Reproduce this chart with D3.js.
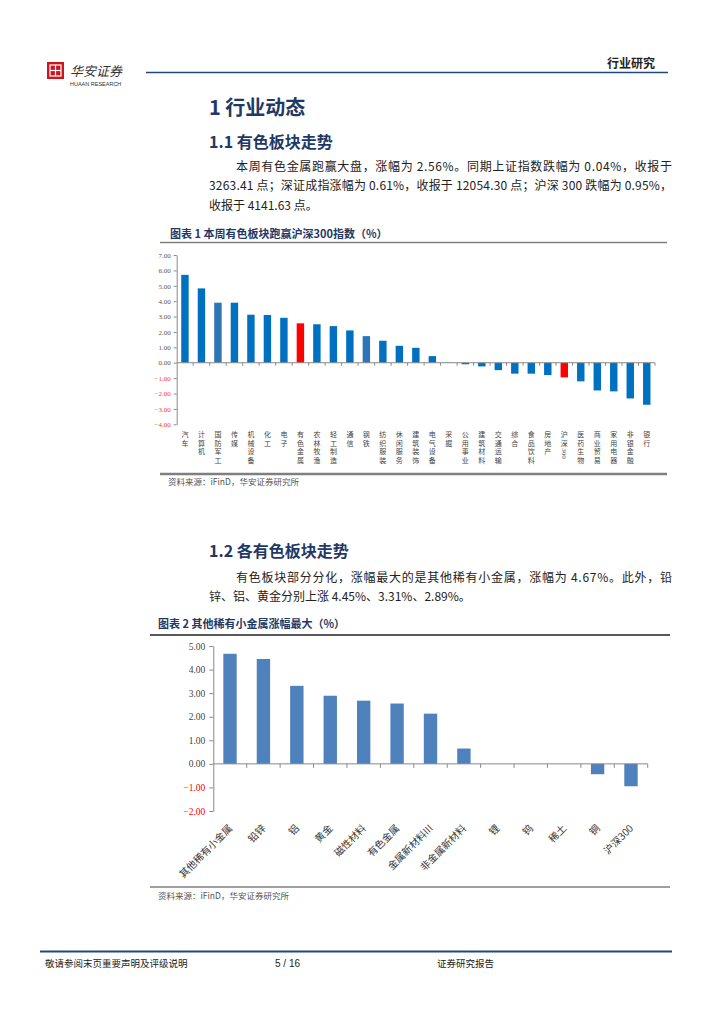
<!DOCTYPE html>
<html><head><meta charset="utf-8">
<script src="https://cdn.jsdelivr.net/npm/d3@7/dist/d3.min.js"></script>
<style>
html,body{margin:0;padding:0;background:#fff;}
svg{display:block;}
</style></head>
<body>
<svg id="page" width="724" height="1024"></svg>
<script>
// ---------- DATA ----------
const cats1 = ["汽车","计算机","国防军工","传媒","机械设备","化工","电子","有色金属","农林牧渔","轻工制造","通信","钢铁","纺织服装","休闲服务","建筑装饰","电气设备","采掘","公用事业","建筑材料","交通运输","综合","食品饮料","房地产","沪深300","医药生物","商业贸易","家用电器","非银金融","银行"];
const vals1 = [5.71,4.83,3.90,3.90,3.12,3.10,2.92,2.56,2.50,2.38,2.10,1.73,1.43,1.10,0.97,0.43,0.02,-0.10,-0.24,-0.48,-0.71,-0.71,-0.80,-0.95,-1.21,-1.80,-1.86,-2.32,-2.73];
const ticks1 = [-4,-3,-2,-1,0,1,2,3,4,5,6,7];

const cats2 = ["其他稀有小金属","铅锌","铝","黄金","磁性材料","有色金属","金属新材料III","非金属新材料","锂","钨","稀土","铜","沪深300"];
const vals2 = [4.67,4.45,3.31,2.89,2.68,2.56,2.13,0.65,0,0,0,-0.44,-0.95];
const ticks2 = [-2,-1,0,1,2,3,4,5];

// ---------- PAGE ----------
const svg = d3.select("#page");
const CJK = "'Noto Sans CJK SC','Noto Sans',sans-serif";
const LAT = "'Liberation Sans',Arial,'Noto Sans CJK SC',sans-serif";
const SERIF = "'Liberation Serif','Times New Roman',serif";
const navy = "#1F3864";

// header
const logo = svg.append("g").attr("transform","translate(47,62)");
logo.append("rect").attr("width",17).attr("height",17).attr("fill","#C8161D");
logo.append("rect").attr("x",3).attr("y",3).attr("width",11).attr("height",11).attr("fill","none").attr("stroke","#fff").attr("stroke-width",1.2);
logo.append("line").attr("x1",8.5).attr("x2",8.5).attr("y1",3).attr("y2",14).attr("stroke","#fff").attr("stroke-width",1.2);
logo.append("line").attr("x1",3).attr("x2",14).attr("y1",8.5).attr("y2",8.5).attr("stroke","#fff").attr("stroke-width",1.2);
svg.append("text").attr("x",70).attr("y",76).attr("font-family",CJK).attr("font-size",13).attr("fill","#333").attr("font-style","italic").text("华安证券");
svg.append("text").attr("x",70).attr("y",86).attr("font-family",LAT).attr("font-size",5.5).attr("fill","#333").text("HUAAN RESEARCH");
svg.append("line").attr("x1",146).attr("x2",668).attr("y1",72.5).attr("y2",72.5).attr("stroke","#1F497D").attr("stroke-width",1.3);
svg.append("text").attr("x",655).attr("y",68).attr("text-anchor","end").attr("font-family",CJK).attr("font-weight","bold").attr("font-size",12).attr("fill","#222").text("行业研究");

// headings
svg.append("text").attr("x",209).attr("y",115).attr("font-family",CJK).attr("font-weight","bold").attr("font-size",20).attr("fill",navy).text("1 行业动态");
svg.append("text").attr("x",209).attr("y",148).attr("font-family",CJK).attr("font-weight","bold").attr("font-size",16).attr("fill",navy).text("1.1 有色板块走势");

function para(x, y, txt, width) {
  const t = svg.append("text").attr("x",x).attr("y",y).attr("font-family",CJK).attr("font-size",12).attr("fill","#222").text(txt);
  if (width) t.attr("textLength",width).attr("lengthAdjust","spacing");
}
para(236,171,"本周有色金属跑赢大盘，涨幅为 2.56%。同期上证指数跌幅为 0.04%，收报于",436);
para(209,190,"3263.41 点；深证成指涨幅为 0.61%，收报于 12054.30 点；沪深 300 跌幅为 0.95%，",463);
para(209,210,"收报于 4141.63 点。");

// ---------- CHART 1 ----------
svg.append("text").attr("x",170).attr("y",238).attr("font-family",CJK).attr("font-weight","bold").attr("font-size",11).attr("fill",navy).text("图表 1 本周有色板块跑赢沪深300指数（%）");
svg.append("line").attr("x1",160).attr("x2",667).attr("y1",242.5).attr("y2",242.5).attr("stroke","#7F7F7F").attr("stroke-width",1.5);

const x1 = d3.scaleBand().domain(cats1).range([176.7,655]).paddingInner(0.55).paddingOuter(0.275);
const y1 = d3.scaleLinear().domain([-4,7]).range([424.3,255]);
const c1 = svg.append("g");
c1.selectAll("rect.bar").data(cats1).join("rect").attr("class","bar")
  .attr("x",d=>x1(d)).attr("width",x1.bandwidth())
  .attr("y",(d,i)=>y1(Math.max(0,vals1[i])))
  .attr("height",(d,i)=>Math.abs(y1(vals1[i])-y1(0)))
  .attr("fill",d=> (d==="有色金属"||d==="沪深300") ? "#FF0000" : ((d==="国防军工"||d==="钢铁") ? "#2E75B6" : "#0070C0"));

const ax1 = c1.append("g").attr("transform",`translate(${176.7},0)`)
  .call(d3.axisLeft(y1).tickValues(ticks1).tickFormat(d3.format(".2f")).tickSize(3).tickSizeOuter(0));
ax1.select(".domain").attr("stroke","#898989");
ax1.selectAll(".tick line").attr("stroke","#898989");
ax1.selectAll(".tick text").attr("font-family",SERIF).attr("font-size",7).attr("x",-6)
  .attr("fill",d=> d<0 ? "#FF3333" : "#555");

// zero axis with boundary ticks
const gap1 = x1.step()-x1.bandwidth();
c1.append("line").attr("x1",176.7).attr("x2",655).attr("y1",y1(0)).attr("y2",y1(0)).attr("stroke","#898989").attr("stroke-width",1);
c1.selectAll("line.bt").data(cats1.slice(1).concat(["__end"])).join("line").attr("class","bt")
  .attr("x1",d=> d==="__end" ? 655 : x1(d)-gap1/2).attr("x2",d=> d==="__end" ? 655 : x1(d)-gap1/2)
  .attr("y1",y1(0)).attr("y2",y1(0)+3).attr("stroke","#898989");

// stacked vertical labels (digit runs rotated sideways)
const step = 8.4;
cats1.forEach(c => {
  const cx = x1(c)+x1.bandwidth()/2;
  const units = c.match(/[0-9A-Za-z]+|./g);
  let y = 431;
  const g = c1.append("g");
  units.forEach(u => {
    if (/^[0-9A-Za-z]+$/.test(u)) {
      const len = u.length*4;
      g.append("text").attr("transform",`translate(${cx-2.4},${y+0.5}) rotate(90)`)
        .attr("font-family",SERIF).attr("font-size",7).attr("fill","#444").text(u);
      y += len + 1.5;
    } else {
      g.append("text").attr("x",cx).attr("y",y+6.3).attr("text-anchor","middle")
        .attr("font-family",CJK).attr("font-size",7).attr("fill","#444").text(u);
      y += step;
    }
  });
});

svg.append("line").attr("x1",160).attr("x2",667).attr("y1",474).attr("y2",474).attr("stroke","#7F7F7F").attr("stroke-width",2.5);
svg.append("text").attr("x",168).attr("y",485).attr("font-family",CJK).attr("font-size",8.5).attr("fill","#555").text("资料来源：iFinD，华安证券研究所");

// ---------- Section 1.2 ----------
svg.append("text").attr("x",209).attr("y",557).attr("font-family",CJK).attr("font-weight","bold").attr("font-size",16).attr("fill",navy).text("1.2 各有色板块走势");
para(236,582,"有色板块部分分化，涨幅最大的是其他稀有小金属，涨幅为 4.67%。此外，铅",436);
para(209,601,"锌、铝、黄金分别上涨 4.45%、3.31%、2.89%。");

// ---------- CHART 2 ----------
svg.append("text").attr("x",158).attr("y",628).attr("font-family",CJK).attr("font-weight","bold").attr("font-size",11).attr("fill",navy).text("图表 2 其他稀有小金属涨幅最大（%）");
svg.append("line").attr("x1",150).attr("x2",670).attr("y1",635).attr("y2",635).attr("stroke","#222").attr("stroke-width",1.3);

const x2 = d3.scaleBand().domain(cats2).range([213.3,647.7]).paddingInner(0.6).paddingOuter(0.3);
const y2 = d3.scaleLinear().domain([-2,5]).range([811,646]);
const c2 = svg.append("g");
c2.selectAll("rect.bar").data(cats2).join("rect").attr("class","bar")
  .attr("x",d=>x2(d)).attr("width",x2.bandwidth())
  .attr("y",(d,i)=>y2(Math.max(0,vals2[i])))
  .attr("height",(d,i)=>Math.abs(y2(vals2[i])-y2(0)))
  .attr("fill","#4F81BD");

const ax2 = c2.append("g").attr("transform","translate(213.3,0)")
  .call(d3.axisLeft(y2).tickValues(ticks2).tickFormat(d3.format(".2f")).tickSize(4).tickSizeOuter(0));
ax2.select(".domain").attr("stroke","#898989");
ax2.selectAll(".tick line").attr("stroke","#898989");
ax2.selectAll(".tick text").attr("font-family",SERIF).attr("font-size",9.5).attr("x",-8)
  .attr("fill",d=> d<0 ? "#FF0000" : "#444");

const gap2 = x2.step()-x2.bandwidth();
c2.append("line").attr("x1",213.3).attr("x2",647.7).attr("y1",y2(0)).attr("y2",y2(0)).attr("stroke","#898989");
c2.selectAll("line.bt").data(cats2.slice(1).concat(["__end"])).join("line").attr("class","bt")
  .attr("x1",d=> d==="__end" ? 647.7 : x2(d)-gap2/2).attr("x2",d=> d==="__end" ? 647.7 : x2(d)-gap2/2)
  .attr("y1",y2(0)).attr("y2",y2(0)+4).attr("stroke","#898989");

c2.selectAll("text.cl").data(cats2).join("text").attr("class","cl")
  .attr("transform",d=>`translate(${x2(d)+x2.bandwidth()/2+3},${829}) rotate(-45)`)
  .attr("text-anchor","end")
  .attr("font-family",CJK).attr("font-size",10).attr("fill","#333")
  .text(d=>d);

svg.append("line").attr("x1",150).attr("x2",670).attr("y1",887).attr("y2",887).attr("stroke","#7F7F7F").attr("stroke-width",1.5);
svg.append("text").attr("x",158).attr("y",899).attr("font-family",CJK).attr("font-size",8.5).attr("fill","#555").text("资料来源：iFinD，华安证券研究所");

// ---------- FOOTER ----------
svg.append("line").attr("x1",40).attr("x2",672).attr("y1",951.5).attr("y2",951.5).attr("stroke","#1F497D").attr("stroke-width",2);
svg.append("text").attr("x",45).attr("y",967).attr("font-family",CJK).attr("font-size",9.5).attr("fill","#222").text("敬请参阅末页重要声明及评级说明");
svg.append("text").attr("x",275).attr("y",967).attr("font-family",LAT).attr("font-size",10).attr("fill","#222").text("5 / 16");
svg.append("text").attr("x",437).attr("y",967).attr("font-family",CJK).attr("font-size",9.5).attr("fill","#222").text("证券研究报告");
</script>
</body></html>
